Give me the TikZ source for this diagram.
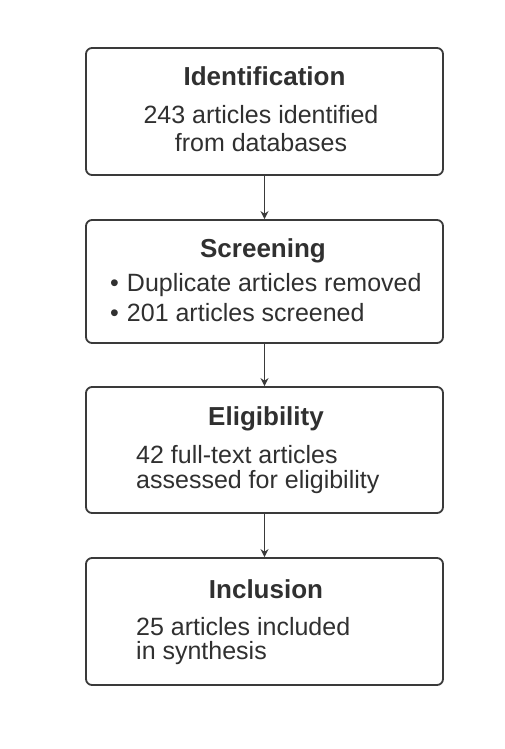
\documentclass[tikz,border=0pt]{standalone}
\usepackage{fontspec}
\setmainfont{Liberation Sans}
\usetikzlibrary{arrows.meta}
\definecolor{boxline}{HTML}{3A3A3A}
\definecolor{inktext}{HTML}{303030}
\begin{document}
\begin{tikzpicture}[x=1pt, y=-1pt,
	stagebox/.style={draw=boxline, line width=1.8pt, rounded corners=6pt, fill=white, minimum width=357pt, inner sep=0pt},
	headtext/.style={text=inktext, font=\fontsize{26}{29}\selectfont\bfseries},
	bodytext/.style={text=inktext, font=\fontsize{25}{28}\selectfont, inner sep=0pt},
	flow/.style={draw=boxline, line width=1.6pt, -{Stealth[length=8pt, width=8pt]}}]
				\useasboundingbox[fill=white] (0,0) rectangle (505,749);

				% Identification
				\node[stagebox, minimum height=127pt] (idbox) at (264.5,111.5) {};
				\node[headtext] (idhead) at (264.5,76) {Identification};
				\node[bodytext] (idline1) at (261,115) {243 articles identified};
				\node[bodytext] (idline2) at (261,143) {from databases};

				% Screening
				\node[stagebox, minimum height=123pt] (scbox) at (264.5,281.5) {};
				\node[headtext] (schead) at (263,251) {Screening};
				\node[bodytext, anchor=west] (scline1) at (110,285) {•\hspace{8pt}Duplicate articles removed};
				\node[bodytext, anchor=west] (scline2) at (110,313) {•\hspace{8pt}201 articles screened};

				% Eligibility
				\node[stagebox, minimum height=126pt] (elbox) at (264.5,450) {};
				\node[headtext] (elhead) at (266,419) {Eligibility};
				\node[bodytext, anchor=west] (elline1) at (136,455) {42 full-text articles};
				\node[bodytext, anchor=west] (elline2) at (136,482) {assessed for eligibility};

				% Inclusion
				\node[stagebox, minimum height=127pt] (inbox) at (264.5,621.5) {};
				\node[headtext] (inhead) at (266,589) {Inclusion};
				\node[bodytext, anchor=west] (inline1) at (136,627) {25 articles included};
				\node[bodytext, anchor=west] (inline2) at (136,653) {in synthesis};

				% arrows
				\draw[flow] (idbox.south) -- (scbox.north);
				\draw[flow] (scbox.south) -- (elbox.north);
				\draw[flow] (elbox.south) -- (inbox.north);
			\end{tikzpicture}
\end{document}
